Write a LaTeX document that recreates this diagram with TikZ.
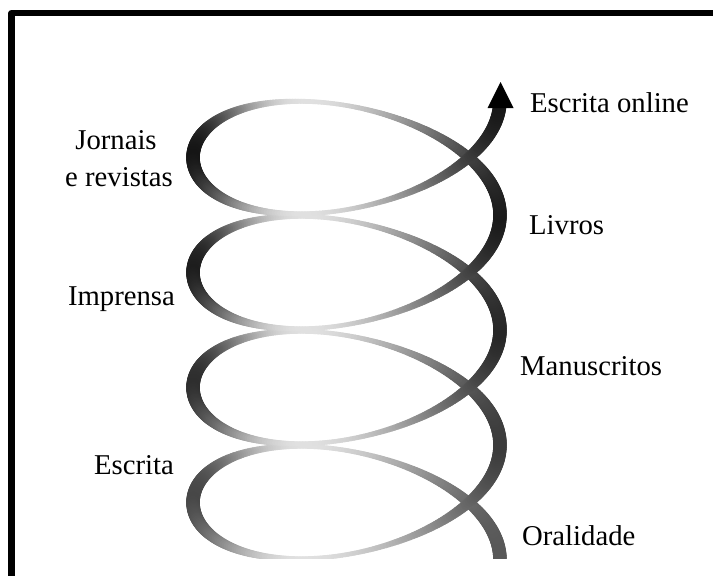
\documentclass[tikz,border=0pt]{standalone}
\usepackage{fontspec}
\setmainfont{Liberation Serif}
\begin{document}
\begin{tikzpicture}[x=1pt,y=-1pt,
  lbl/.style={inner sep=0pt,font=\fontsize{28.7}{37}\selectfont},
  framestroke/.style={line width=6.5pt,line join=round,draw=black},
  declare function={
    hx(\t)=346.5+153.5*cos(\t r)-15*sin(\t r)*sin(\t r);
    hy(\t)=560-18.3*\t-83*sin(\t r);
  }]
\useasboundingbox (0,0) rectangle (713,576);
\fill[white] (0,0) rectangle (713,576);
% frame (left and top sides)
\draw[framestroke] (11.7,600) -- (11.7,13) -- (730,13);
% spiral
\begin{scope}
\clip (0,0) rectangle (713,558);
\foreach \i in {0,...,1253}{
  \pgfmathsetmacro\ta{\i*0.02}
  \pgfmathsetmacro\tb{min(\ta+0.02,25.063)}
  \pgfmathsetmacro\tm{(\ta+\tb)/2}
  \pgfmathsetmacro\ph{mod(\tm,6.283185)}
  \pgfmathsetmacro\ps{min(\ph,6.283185-\ph)}
  \pgfmathsetmacro\dd{\ps-1.75}
  \pgfmathsetmacro\sg{\dd>0 ? 0.5 : 0.9}
  \pgfmathsetmacro\g{exp(-\dd*\dd/\sg)}
  \pgfmathsetmacro\yy{hy(\tm)}
  \pgfmathsetmacro\rr{(\yy-100)/460}
  \pgfmathsetmacro\Lz{0.06+0.27*\rr*\rr}
  \pgfmathsetmacro\LL{\Lz+(0.88-\Lz)*\g}
  \pgfmathsetmacro\dk{100*(1-\LL)}
  \pgfmathsetmacro\cs{cos(\ph r)}
  \pgfmathsetmacro\ww{4.5+9*\cs*\cs}
  \pgfmathsetmacro\xa{hx(\ta)}
  \pgfmathsetmacro\ya{hy(\ta)}
  \pgfmathsetmacro\xb{hx(\tb)}
  \pgfmathsetmacro\yb{hy(\tb)}
  \draw[line width=\ww pt,color=black!\dk,line cap=round] (\xa,\ya) -- (\xb,\yb);
}
\end{scope}
% arrow head
\coordinate (hl) at (487.5,108);
\coordinate (ht) at (500.5,82);
\coordinate (hr) at (513.5,108);
\fill[black] (hl) -- (ht) -- (hr) -- cycle;
% labels
\node[lbl,anchor=base west] (online) at (530,112) {Escrita online};
\node[lbl,anchor=base west] (livros) at (529,234.5) {Livros};
\node[lbl,anchor=base west] (manus) at (520,375) {Manuscritos};
\node[lbl,anchor=base west] (oral) at (522,545) {Oralidade};
\node[lbl,anchor=base] (jornais) at (116,149) {Jornais};
\node[lbl,anchor=base] (revistas) at (119,186) {e revistas};
\node[lbl,anchor=base east] (imprensa) at (175,305) {Imprensa};
\node[lbl,anchor=base east] (escrita) at (174,474) {Escrita};
\end{tikzpicture}
\end{document}
